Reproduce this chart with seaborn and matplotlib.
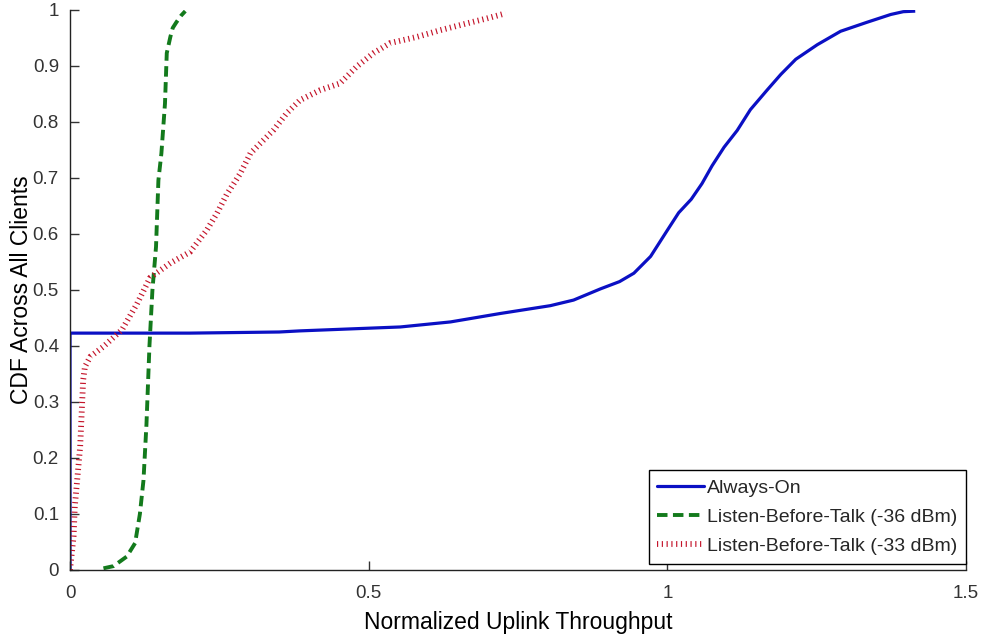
import numpy as np
import pandas as pd
import matplotlib
matplotlib.use("Agg")
import matplotlib.pyplot as plt
import seaborn as sns
from matplotlib.lines import Line2D

# Empirical CDF curves: throughput (x) vs. cumulative fraction (y)
always_on_x = [0.0, 0.0, 0.20, 0.35, 0.385, 0.553, 0.637, 0.72, 0.804, 0.843,
               0.888, 0.92, 0.944, 0.972, 0.999, 1.019, 1.04, 1.058, 1.075, 1.095,
               1.117, 1.139, 1.167, 1.19, 1.215, 1.251, 1.29, 1.334, 1.374, 1.395,
               1.415]
always_on_y = [0.0, 0.423, 0.423, 0.425, 0.427, 0.434, 0.443, 0.458, 0.472, 0.482,
               0.502, 0.515, 0.530, 0.560, 0.605, 0.638, 0.662, 0.690, 0.722, 0.755,
               0.785, 0.822, 0.857, 0.885, 0.912, 0.938, 0.962, 0.978, 0.992, 0.997,
               0.998]

lbt36_x = [0.056, 0.073, 0.095, 0.109, 0.117, 0.123, 0.128, 0.133, 0.138, 0.144,
           0.148, 0.153, 0.159, 0.162, 0.168, 0.172, 0.178, 0.186, 0.193]
lbt36_y = [0.003, 0.007, 0.024, 0.048, 0.10, 0.16, 0.26, 0.40, 0.50, 0.577,
           0.696, 0.744, 0.833, 0.923, 0.952, 0.968, 0.978, 0.99, 0.998]

lbt33_x = [0.0, 0.006, 0.008, 0.017, 0.022, 0.025, 0.034, 0.056, 0.087, 0.112,
           0.134, 0.168, 0.201, 0.229, 0.246, 0.262, 0.285, 0.302, 0.341, 0.363,
           0.385, 0.419, 0.452, 0.480, 0.508, 0.536, 0.581, 0.620, 0.664, 0.698,
           0.729]
lbt33_y = [0.0, 0.06, 0.113, 0.22, 0.339, 0.363, 0.381, 0.399, 0.429, 0.475,
           0.522, 0.548, 0.568, 0.607, 0.637, 0.670, 0.708, 0.744, 0.786, 0.816,
           0.839, 0.857, 0.869, 0.899, 0.923, 0.941, 0.952, 0.964, 0.976, 0.985,
           0.994]

series_labels = ["Always-On", "Listen-Before-Talk (-36 dBm)", "Listen-Before-Talk (-33 dBm)"]
x_ticks = [0, 0.5, 1, 1.5]
x_tick_labels = ["0", "0.5", "1", "1.5"]
y_ticks = [0, 0.1, 0.2, 0.3, 0.4, 0.5, 0.6, 0.7, 0.8, 0.9, 1.0]
y_tick_labels = ["0", "0.1", "0.2", "0.3", "0.4", "0.5", "0.6", "0.7", "0.8", "0.9", "1"]

sns.set_style("ticks")
plt.rcParams["font.family"] = ["Liberation Sans", "DejaVu Sans"]

fig = plt.figure(figsize=(9.82, 6.34), dpi=100)
ax = fig.add_axes([70 / 982, 1 - 570 / 634, 896 / 982, 560 / 634])

blue = "#0b10c4"
green = "#137a1c"
red = "#c4142a"

styles = [
    dict(color=blue, linewidth=2.3, linestyle="-"),
    dict(color=green, linewidth=2.8, linestyle=(0, (2.7, 1.4))),
    dict(color=red, linewidth=4.2, linestyle=(0, (0.2, 0.62))),
]

data = [(always_on_x, always_on_y), (lbt36_x, lbt36_y), (lbt33_x, lbt33_y)]
handles = []
for (xs, ys), lab, st in zip(data, series_labels, styles):
    df = pd.DataFrame({"x": xs, "y": ys})
    sns.lineplot(data=df, x="x", y="y", sort=False, estimator=None, ax=ax,
                 color=st["color"], linewidth=st["linewidth"], legend=False)
    ln = ax.lines[-1]
    ln.set_linestyle(st["linestyle"])
    ln.set_dash_capstyle("butt")
    ln.set_solid_capstyle("butt")
    handles.append(Line2D([], [], color=st["color"], linewidth=st["linewidth"],
                          linestyle=st["linestyle"], dash_capstyle="butt",
                          label=lab))

ax.set_xlim(0, 1.5)
ax.set_ylim(0, 1)
ax.set_xticks(x_ticks)
ax.set_xticklabels(x_tick_labels)
ax.set_yticks(y_ticks)
ax.set_yticklabels(y_tick_labels)
ax.tick_params(direction="in", length=6.5, width=1, colors="#333333",
               labelsize=13.5, pad=8)
ax.tick_params(axis="x", pad=11)
for side in ("top", "right"):
    ax.spines[side].set_visible(False)
for side in ("left", "bottom"):
    ax.spines[side].set_color("#222222")
    ax.spines[side].set_linewidth(1.0)

ax.set_xlabel("Normalized Uplink Throughput", fontsize=16.5, color="black", labelpad=6)
ax.set_ylabel("CDF Across All Clients", fontsize=16.5, color="black")
ax.yaxis.set_label_coords(-0.041, 0.5)

leg = ax.legend(handles=handles, loc="lower right", bbox_to_anchor=(1.0, 0.011),
                borderaxespad=0, fontsize=14, frameon=True, fancybox=False,
                framealpha=1, edgecolor="black", handlelength=2.4,
                handletextpad=0.15, labelspacing=0.6, borderpad=0.45)
leg.get_frame().set_linewidth(1.0)

fig.savefig("out.png", dpi=100, facecolor="white")
